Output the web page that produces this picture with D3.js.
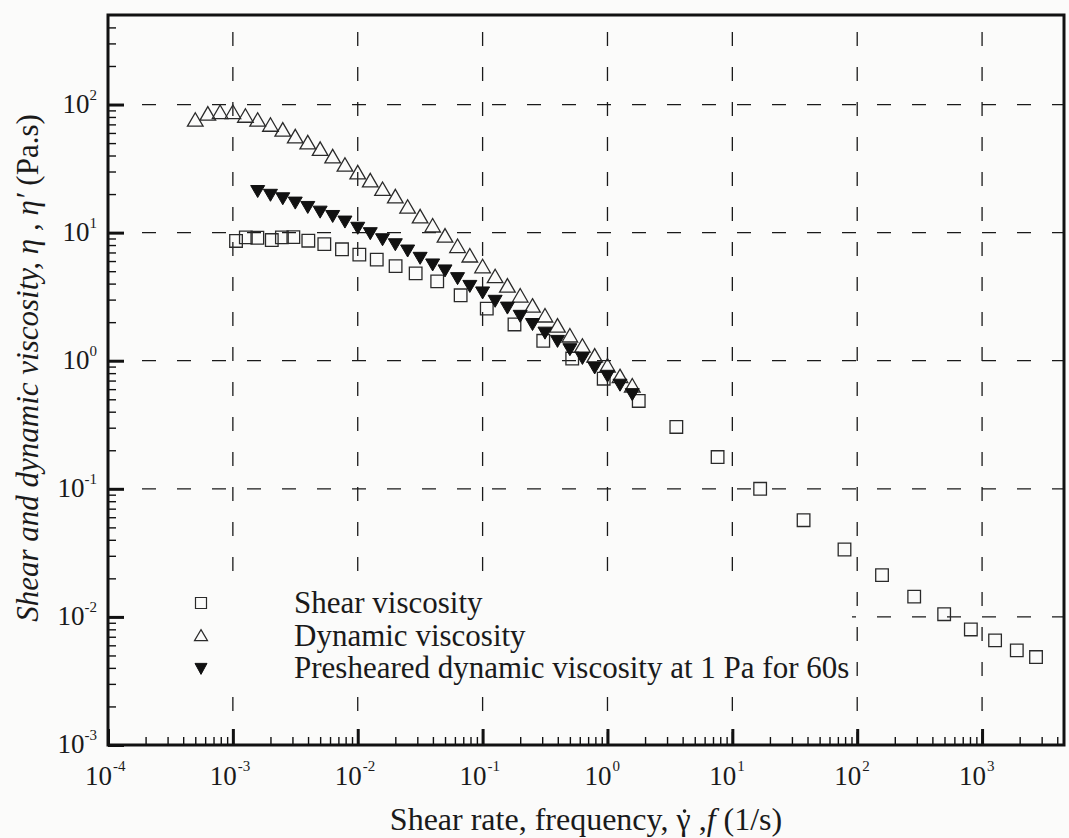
<!DOCTYPE html>
<html>
<head>
<meta charset="utf-8">
<script src="https://cdn.jsdelivr.net/npm/d3@7"></script>
<style>
  html, body { margin: 0; padding: 0; background: #fbfbfa; }
  svg { display: block; font-family: "Liberation Serif", "Times New Roman", serif; }
</style>
</head>
<body>
<svg id="chart" width="1069" height="838"></svg>
<script>
// ---- Data ----
// Shear viscosity (open squares)
const shearRate = [0.00106, 0.00127, 0.00157, 0.00205, 0.00247, 0.00305, 0.00402, 0.0054, 0.00748,
  0.0103, 0.0142, 0.0201, 0.0291, 0.0433, 0.0667, 0.108, 0.180, 0.306, 0.522, 0.933,
  1.78, 3.56, 7.62, 16.7, 37.2, 79.1, 158, 286, 497, 813, 1271, 1897, 2704];
const shearViscosity = [8.61, 9.18, 9.12, 8.75, 9.18, 9.23, 8.65, 8.13, 7.41,
  6.73, 6.15, 5.48, 4.81, 4.16, 3.24, 2.55, 1.92, 1.43, 1.04, 0.724,
  0.485, 0.304, 0.177, 0.100, 0.0569, 0.0336, 0.0212, 0.0144, 0.0105, 0.00798, 0.00656, 0.00548, 0.00486];

// Dynamic viscosity (open triangles)
const frequency = [0.0005, 0.00063, 0.00079, 0.001, 0.00126, 0.00158, 0.002, 0.00251, 0.00316, 0.00398,
  0.005, 0.0063, 0.0079, 0.01, 0.0126, 0.0158, 0.02, 0.0251, 0.0316, 0.0398,
  0.05, 0.063, 0.079, 0.1, 0.126, 0.158, 0.2, 0.251, 0.316, 0.398,
  0.5, 0.63, 0.79, 1, 1.26, 1.58];
const dynamicViscosity = [75.0, 83.6, 86.1, 86.1, 80.5, 75.0, 68.5, 62.7, 55.6, 49.9,
  44.4, 38.8, 33.4, 29.1, 25.2, 21.6, 18.9, 15.7, 13.2, 11.2,
  9.33, 7.74, 6.53, 5.38, 4.50, 3.80, 3.18, 2.65, 2.22, 1.85,
  1.55, 1.29, 1.08, 0.904, 0.746, 0.631];

// Presheared dynamic viscosity (filled down triangles)
const preshearFrequency = [0.00158, 0.002, 0.00251, 0.00316, 0.00398,
  0.005, 0.0063, 0.0079, 0.01, 0.0126, 0.0158, 0.02, 0.0251, 0.0316, 0.0398,
  0.05, 0.063, 0.079, 0.1, 0.126, 0.158, 0.2, 0.251, 0.316, 0.398,
  0.5, 0.63, 0.79, 1, 1.26, 1.58];
const preshearViscosity = [21.3, 19.9, 18.7, 17.3, 16.0,
  14.7, 13.6, 12.3, 11.0, 9.98, 8.95, 8.18, 7.31, 6.41, 5.69,
  5.11, 4.45, 3.87, 3.44, 2.96, 2.62, 2.26, 1.95, 1.67, 1.44,
  1.24, 1.06, 0.893, 0.769, 0.655, 0.553];

// Axis ticks
const xMajorExp = [-4, -3, -2, -1, 0, 1, 2, 3];
const yMajorExp = [-3, -2, -1, 0, 1, 2];
const xGridExp = [-3, -2, -1, 0, 1, 2, 3];
const yGridExp = [-2, -1, 0, 1, 2];
const legendLabels = ["Shear viscosity", "Dynamic viscosity", "Presheared dynamic viscosity at 1 Pa for 60s"];

// ---- Layout ----
const svg = d3.select("#chart");
const BG = "#fbfbfa";
const L = 108, R = 1064, T = 15, B = 745;
const xDomain = [1e-4, 4530];
const yDomain = [1e-3, 500];
const x = d3.scaleLog().domain(xDomain).range([L, R]);
const y = d3.scaleLog().domain(yDomain).range([B, T]);

function minorTicks(domain) {
  const out = [];
  const lo = Math.floor(Math.log10(domain[0])), hi = Math.ceil(Math.log10(domain[1]));
  for (let e = lo; e <= hi; e++) {
    for (let m = 2; m <= 9; m++) {
      const v = m * Math.pow(10, e);
      if (v > domain[0] && v < domain[1]) out.push(v);
    }
  }
  return out;
}
const xMajor = xMajorExp.map(e => Math.pow(10, e));
const yMajor = yMajorExp.map(e => Math.pow(10, e));

// ---- Grid (dashed) ----
const grid = svg.append("g").attr("stroke", "#1a1a1a").attr("stroke-width", 1.3)
  .attr("stroke-dasharray", "14,21").attr("fill", "none");
grid.selectAll("line.v").data(xGridExp).join("line").attr("class", "v")
  .attr("x1", e => x(Math.pow(10, e))).attr("x2", e => x(Math.pow(10, e)))
  .attr("y1", T + 17).attr("y2", B);
grid.selectAll("line.h").data(yGridExp).join("line").attr("class", "h")
  .attr("y1", e => y(Math.pow(10, e))).attr("y2", e => y(Math.pow(10, e)))
  .attr("x1", L + 34).attr("x2", R);

// Legend background (hides the grid behind the legend, as in the original)
svg.append("rect").attr("x", 132).attr("y", 585).attr("width", 720).attr("height", 104)
  .attr("fill", BG);

// ---- Axes (ticks inward) ----
function styleAxis(g, w) {
  g.select(".domain").remove();
  g.selectAll(".tick line").attr("stroke", "#111").attr("stroke-width", w);
}
svg.append("g").attr("transform", `translate(${L},0)`)
  .call(d3.axisLeft(y).tickValues(minorTicks(yDomain)).tickSize(-8).tickFormat(""))
  .call(g => styleAxis(g, 1.4));
svg.append("g").attr("transform", `translate(${L},0)`)
  .call(d3.axisLeft(y).tickValues(yMajor).tickSize(-16).tickFormat(""))
  .call(g => styleAxis(g, 3));
svg.append("g").attr("transform", `translate(0,${B})`)
  .call(d3.axisBottom(x).tickValues(minorTicks(xDomain)).tickSize(-8).tickFormat(""))
  .call(g => styleAxis(g, 1.4));
svg.append("g").attr("transform", `translate(0,${B})`)
  .call(d3.axisBottom(x).tickValues(xMajor).tickSize(-16).tickFormat(""))
  .call(g => styleAxis(g, 3));

// Frame
svg.append("rect").attr("x", L).attr("y", T).attr("width", R - L).attr("height", B - T)
  .attr("fill", "none").attr("stroke", "#111").attr("stroke-width", 3);

// ---- Tick labels ----
const yl = svg.append("g").attr("fill", "#1a1a1a");
yMajorExp.forEach(e => {
  const t = yl.append("text").attr("x", 97).attr("y", y(Math.pow(10, e)) + 8)
    .attr("text-anchor", "end");
  t.append("tspan").attr("font-size", 27).text("10");
  t.append("tspan").attr("font-size", 15).attr("dy", -13).text(String(e));
});
const xl = svg.append("g").attr("fill", "#1a1a1a");
xMajorExp.forEach(e => {
  const xp = x(Math.pow(10, e));
  xl.append("text").attr("x", xp + 4).attr("y", 785).attr("text-anchor", "end")
    .attr("font-size", 27).text("10");
  xl.append("text").attr("x", xp + 5).attr("y", 771).attr("text-anchor", "start")
    .attr("font-size", 15).text(String(e));
});

// ---- Axis titles ----
const xt = svg.append("text").attr("x", 586).attr("y", 830).attr("text-anchor", "middle")
  .attr("font-size", 32).attr("fill", "#1a1a1a");
xt.append("tspan").text("Shear rate, frequency, ");
xt.append("tspan").text("\u03B3");
xt.append("tspan").text("  ,");
xt.append("tspan").attr("font-style", "italic").text("f");
xt.append("tspan").text(" (1/s)");
// dot over gamma
{
  const idx = "Shear rate, frequency, ".length;
  const ext = xt.node().getExtentOfChar(idx);
  svg.append("circle").attr("cx", ext.x + ext.width / 2 + 1).attr("cy", ext.y + ext.height * 0.28)
    .attr("r", 1.8).attr("fill", "#1a1a1a");
}

// y title
const yt = svg.append("text").attr("transform", "translate(38,368) rotate(-90)")
  .attr("text-anchor", "middle").attr("font-size", 31).attr("fill", "#1a1a1a");
yt.append("tspan").attr("font-style", "italic").text("Shear and dynamic viscosity, \u03B7 , \u03B7\u2032\u00A0");
yt.append("tspan").text("(Pa.s)");

// ---- Markers ----
const sq = s => `M${-s},${-s}H${s}V${s}H${-s}Z`;
const triUp = (w, h) => `M0,${-h * 0.58}L${w},${h * 0.42}L${-w},${h * 0.42}Z`;
const triDown = (w, h) => `M${-w},${-h * 0.42}L${w},${-h * 0.42}L0,${h * 0.58}Z`;

const shearData = shearRate.map((r, i) => [r, shearViscosity[i]]);
const dynData = frequency.map((f, i) => [f, dynamicViscosity[i]]);
const preData = preshearFrequency.map((f, i) => [f, preshearViscosity[i]]);

svg.append("g").selectAll("path").data(shearData).join("path")
  .attr("transform", d => `translate(${x(d[0])},${y(d[1])})`)
  .attr("d", sq(6.3)).attr("fill", "none").attr("stroke", "#2a2a2a").attr("stroke-width", 1.3);
svg.append("g").selectAll("path").data(dynData).join("path")
  .attr("transform", d => `translate(${x(d[0])},${y(d[1])})`)
  .attr("d", triUp(7.8, 13.5)).attr("fill", "none").attr("stroke", "#2a2a2a").attr("stroke-width", 1.3);
svg.append("g").selectAll("path").data(preData).join("path")
  .attr("transform", d => `translate(${x(d[0])},${y(d[1])})`)
  .attr("d", triDown(7, 12)).attr("fill", "#111").attr("stroke", "#111").attr("stroke-width", 1);

// ---- Legend ----
const legY = [603, 636, 668];
const lg = svg.append("g");
lg.append("path").attr("transform", `translate(201,${legY[0]})`).attr("d", sq(5.5))
  .attr("fill", "none").attr("stroke", "#2a2a2a").attr("stroke-width", 1.2);
lg.append("path").attr("transform", `translate(201,${legY[1]})`).attr("d", triUp(6.5, 11))
  .attr("fill", "none").attr("stroke", "#2a2a2a").attr("stroke-width", 1.2);
lg.append("path").attr("transform", `translate(201,${legY[2]})`).attr("d", triDown(6, 11))
  .attr("fill", "#111").attr("stroke", "#111").attr("stroke-width", 1);
lg.selectAll("text").data(legendLabels).join("text")
  .attr("x", 294).attr("y", (d, i) => legY[i] + 10)
  .attr("font-size", 31).attr("fill", "#1a1a1a").text(d => d);
</script>
</body>
</html>
